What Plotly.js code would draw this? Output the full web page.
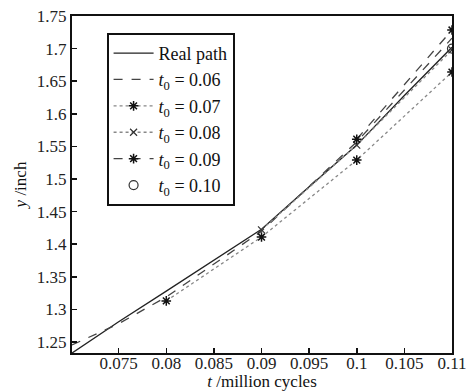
<!DOCTYPE html>
<html>
<head>
<meta charset="utf-8">
<script src="https://cdn.plot.ly/plotly-3.0.1.min.js"></script>
<style>html,body{margin:0;padding:0;background:#fff;}#chart{width:467px;height:391px;}</style>
</head>
<body>
<div id="chart"></div>
<script>
// Data
const realX = [0.0701, 0.075, 0.08, 0.085, 0.09, 0.095, 0.1, 0.105, 0.11];
const realY = [1.233, 1.281, 1.328, 1.375, 1.423, 1.488, 1.552, 1.628, 1.702];

const t06X = [0.0701, 0.075, 0.08, 0.09, 0.1, 0.11];
const t06Y = [1.2454, 1.278, 1.319, 1.420, 1.557, 1.716];

const t07X = [0.08, 0.09, 0.1, 0.11];
const t07Y = [1.313, 1.411, 1.529, 1.664];

const t08X = [0.09, 0.1, 0.11];
const t08Y = [1.422, 1.552, 1.698];

const t09X = [0.1, 0.11];
const t09Y = [1.561, 1.7285];

const t10X = [0.11];
const t10Y = [1.700];

const seriesNames = ['Real path',
  '<i>t</i><sub>0</sub> = 0.06',
  '<i>t</i><sub>0</sub> = 0.07',
  '<i>t</i><sub>0</sub> = 0.08',
  '<i>t</i><sub>0</sub> = 0.09',
  '<i>t</i><sub>0</sub> = 0.10'];

const serif = "Liberation Serif";
const font = {family: serif, size: 18, color: '#111'};

const traces = [
  {x: realX, y: realY, name: seriesNames[0], mode: 'lines', line: {color: '#222', width: 1.3}},
  {x: t06X, y: t06Y, name: seriesNames[1], mode: 'lines', line: {color: '#444', width: 1.3, dash: 'dash'}},
  {x: t07X, y: t07Y, name: seriesNames[2], mode: 'lines+markers', line: {color: '#888', width: 1.3, dash: 'dot'},
   marker: {symbol: 'asterisk-open', size: 8, color: '#111', line: {color: '#111', width: 1.5}}},
  {x: t08X, y: t08Y, name: seriesNames[3], mode: 'lines+markers', line: {color: '#888', width: 1.3, dash: 'dot'},
   marker: {symbol: 'x-thin-open', size: 7, color: '#333', line: {color: '#333', width: 1.2}}},
  {x: t09X, y: t09Y, name: seriesNames[4], mode: 'lines+markers', line: {color: '#444', width: 1.3, dash: 'dash'},
   marker: {symbol: 'asterisk-open', size: 8, color: '#111', line: {color: '#111', width: 1.5}}},
  {x: t10X, y: t10Y, name: seriesNames[5], mode: 'markers',
   marker: {symbol: 'circle-open', size: 9, color: '#333', line: {color: '#333', width: 1.2}}}
];

const layout = {
  width: 467, height: 391,
  margin: {l: 72, r: 15, t: 16, b: 38},
  paper_bgcolor: '#fff', plot_bgcolor: '#fff',
  font: font,
  showlegend: true,
  legend: {x: 0.091, y: 0.95, xanchor: 'left', yanchor: 'top',
    bgcolor: '#fff', bordercolor: '#111', borderwidth: 2,
    font: {family: serif, size: 18, color: '#111'},
    tracegroupgap: 0, itemwidth: 40},
  xaxis: {
    range: [0.0701, 0.110002], dtick: 0.005, tick0: 0,
    showgrid: false, zeroline: false,
    showline: true, linecolor: '#111', linewidth: 2, mirror: true,
    ticks: 'inside', ticklen: 5, tickcolor: '#111', tickwidth: 1.5,
    ticklabelstandoff: -6, ticklabeloverflow: 'allow',
    tickfont: {family: serif, size: 17, color: '#222'},
    automargin: false,
    title: {text: '<i>t</i> /million cycles', font: {family: serif, size: 17, color: '#111'}, standoff: 4}
  },
  yaxis: {
    range: [1.2331, 1.75], dtick: 0.05, tick0: 0,
    showgrid: false, zeroline: false,
    showline: true, linecolor: '#111', linewidth: 2, mirror: true,
    ticks: 'inside', ticklen: 5, tickcolor: '#111', tickwidth: 1.5,
    tickfont: {family: serif, size: 17, color: '#222'},
    automargin: false,
    title: {text: '<i>y</i> /inch', font: {family: serif, size: 17, color: '#111'}, standoff: 6}
  }
};

Plotly.newPlot('chart', traces, layout, {displayModeBar: false, staticPlot: true});
</script>
</body>
</html>
